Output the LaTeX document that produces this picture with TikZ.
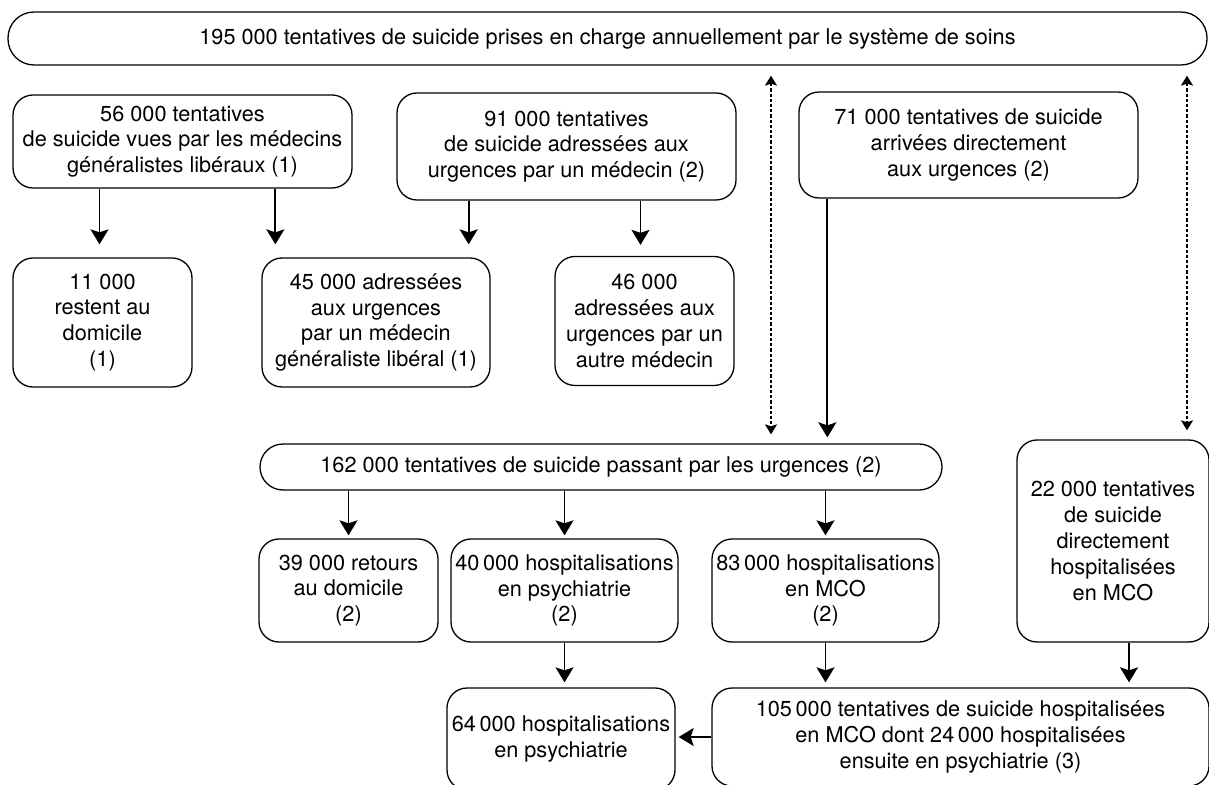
\documentclass[tikz,border=0pt]{standalone}
\usepackage{fontspec}
\setmainfont{TeX Gyre Heros}
\usetikzlibrary{arrows.meta,calc}

\begin{document}
\begin{tikzpicture}[x=0.5pt,y=-0.5pt,
  box/.style={draw,line width=0.65pt,rounded corners=10pt,align=center,inner sep=0pt,font=\fontsize{10.85}{12.9}\selectfont},
  arr/.style={line width=0.95pt,-{Stealth[length=7.5pt,width=9pt,inset=1.5pt]},shorten >=1.5pt},
  dotarr/.style={line width=0.8pt,dash pattern=on 1.6pt off 1pt,{Stealth[length=5pt,width=6pt,inset=1pt]}-{Stealth[length=5pt,width=6pt,inset=1pt]},shorten <=5pt,shorten >=4.5pt}]
\useasboundingbox (0,0) rectangle (1209,785);
\fill[white] (0,0) rectangle (1209,785);
% top row
\node[box,rounded corners=13pt,minimum width=599.5pt,minimum height=26.5pt] (top) at (607.5,38.5) {195 000 tentatives de suicide prises en charge annuellement par le système de soins};
\node[box,minimum width=169.5pt,minimum height=46.5pt] (gp) at (182.5,141.5) {56 000 tentatives\\de suicide vues par les médecins\\généralistes libéraux (1)};
\node[box,minimum width=169.5pt,minimum height=53.5pt] (adr) at (566.5,146.5) {91 000 tentatives\\de suicide adressées aux\\urgences par un médecin (2)};
\node[box,minimum width=169.5pt,minimum height=53pt] (dir) at (968.5,145) {71 000 tentatives de suicide\\arrivées directement\\aux urgences (2)};
% second row
\node[box,minimum width=89.5pt,minimum height=64.5pt] (dom) at (102.5,322.5) {11 000\\restent au\\domicile\\(1)};
\node[box,minimum width=114pt,minimum height=64.5pt] (gen) at (376,322.5) {45 000 adressées\\aux urgences\\par un médecin\\généraliste libéral (1)};
\node[box,minimum width=89.5pt,minimum height=64.5pt] (aut) at (644.5,321) {46 000\\adressées aux\\urgences par un\\autre médecin};
% urgences
\node[box,rounded corners=11.5pt,minimum width=341pt,minimum height=23pt] (urg) at (601,467) {162 000 tentatives de suicide passant par les urgences (2)};
\node[box,minimum width=89.5pt,minimum height=51.5pt] (ret) at (348.5,590.5) {39 000 retours\\au domicile\\(2)};
\node[box,minimum width=113.5pt,minimum height=51.5pt] (psy) at (564.5,590.5) {40\,000 hospitalisations\\en psychiatrie\\(2)};
\node[box,minimum width=113.5pt,minimum height=51.5pt] (mco) at (825.5,590.5) {83\,000 hospitalisations\\en MCO\\(2)};
\node[box,minimum width=96pt,minimum height=101pt] (hdir) at (1113,541) {22 000 tentatives\\de suicide\\directement\\hospitalisées\\en MCO};
% bottom row
\node[box,minimum width=114pt,minimum height=51pt] (psyf) at (561,739) {64\,000 hospitalisations\\en psychiatrie};
\node[box,minimum width=248.5pt,minimum height=49pt] (mcof) at (960.5,737) {105\,000 tentatives de suicide hospitalisées\\en MCO dont 24\,000 hospitalisées\\ensuite en psychiatrie (3)};

\coordinate (h1) at ([xshift=-1.5pt,yshift=5pt]dom.north);
\coordinate (g1) at ([xshift=7pt,yshift=5pt]gen.north west);
\coordinate (g2) at ([xshift=-11pt,yshift=5pt]gen.north east);
\coordinate (a1) at ([xshift=-2pt,yshift=4pt]aut.north);
\coordinate (u1) at ([xshift=14.5pt]dir.south west);
\coordinate (d1) at ([xshift=85pt]urg.north);
\coordinate (d2) at ([xshift=37pt]hdir.north);
\coordinate (m1) at ([xshift=8pt]hdir.south);

\draw[arr] (gp.south -| h1) -- (h1);
\draw[arr] (gp.south -| g1) -- (g1);
\draw[arr] (adr.south -| g2) -- (g2);
\draw[arr] (adr.south -| a1) -- (a1);
\draw[arr,shorten >=3pt] (u1) -- (u1 |- urg.north);
\draw[dotarr] (top.south -| d1) -- (d1);
\draw[dotarr] (top.south -| d2) -- (d2);
\draw[arr] (urg.south -| ret.north) -- (ret.north);
\draw[arr] (urg.south -| psy.north) -- (psy.north);
\draw[arr] (urg.south -| mco.north) -- (mco.north);
\draw[arr,shorten >=2.5pt] (psy.south) -- (psy.south |- psyf.north);
\draw[arr,shorten >=2.5pt] (mco.south) -- (mco.south |- mcof.north);
\draw[arr,shorten >=2.5pt] (m1) -- (m1 |- mcof.north);
\draw[arr] (mcof.west) -- (mcof.west -| psyf.east);
\end{tikzpicture}
\end{document}
